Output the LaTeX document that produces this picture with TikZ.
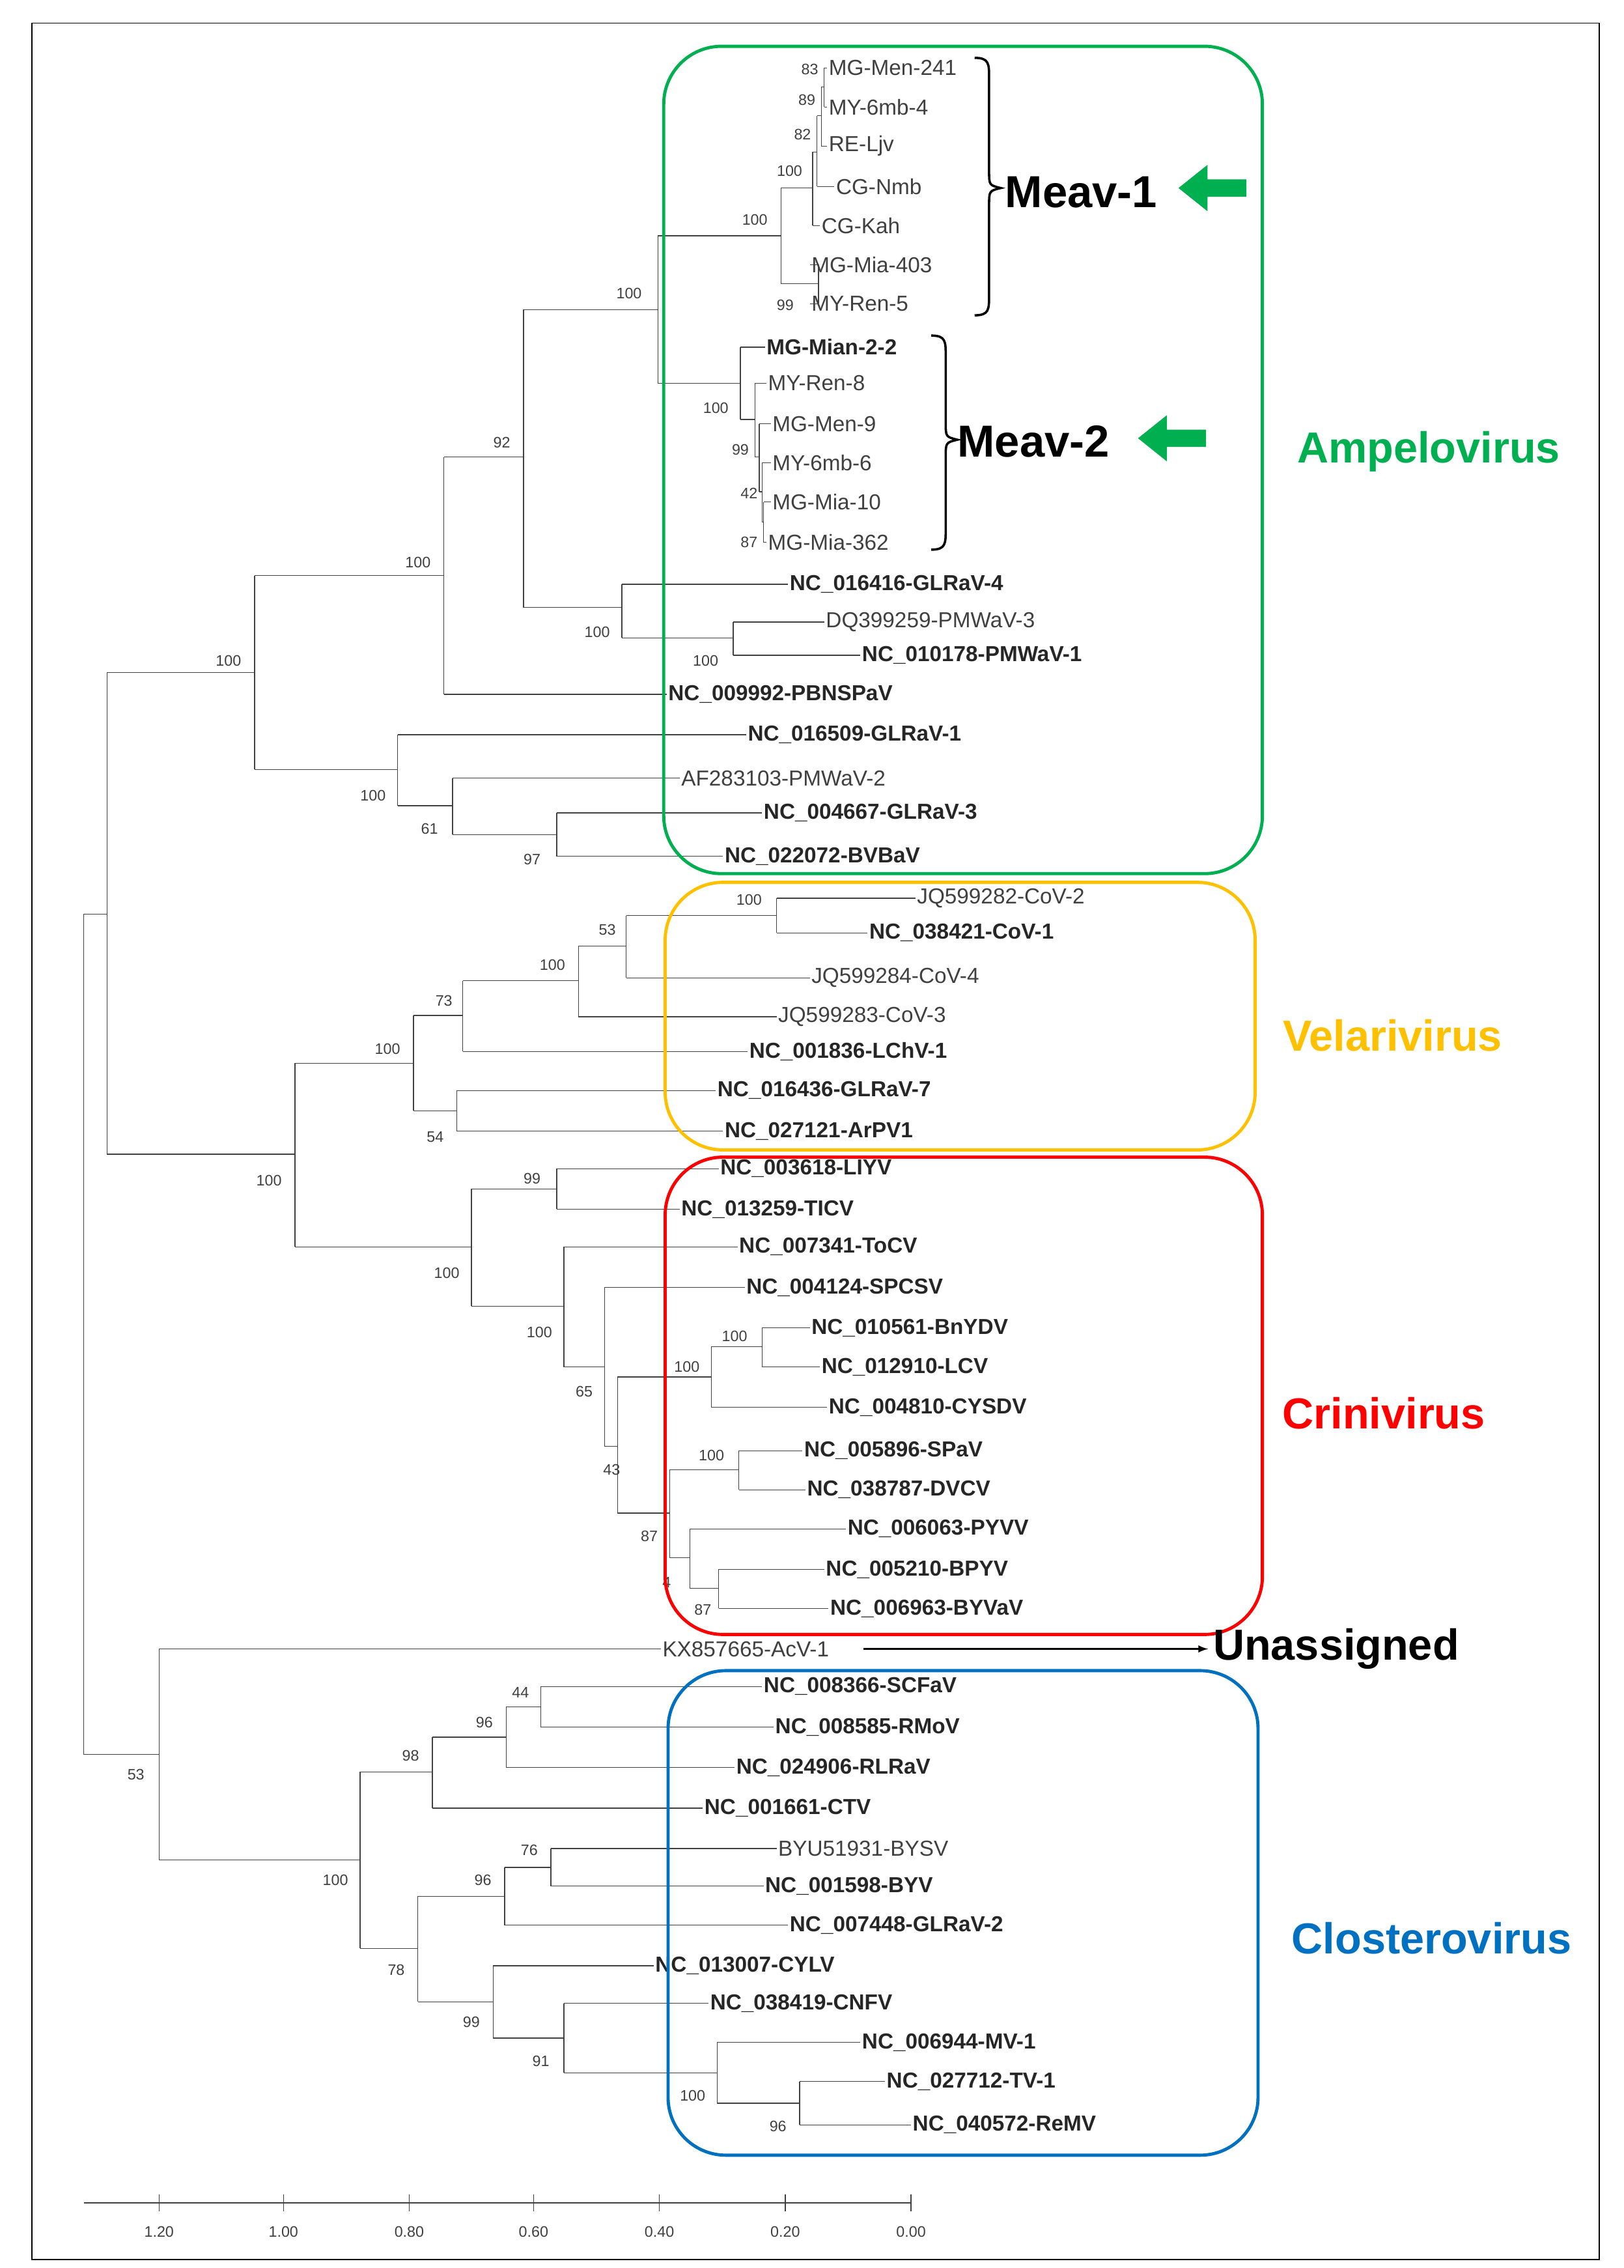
\documentclass[tikz,border=0pt]{standalone}
\usepackage{fontspec}
\setmainfont{Liberation Sans}
\definecolor{gA}{RGB}{0,176,80}
\definecolor{oV}{RGB}{255,192,0}
\definecolor{bC}{RGB}{0,112,192}
\begin{document}
\begin{tikzpicture}[x=1pt,y=-1pt,
  br/.style={line width=0.6pt,black!75},
  lf/.style={anchor=west,inner sep=1pt,font=\fontsize{15}{16}\selectfont,text=black!75},
  lb/.style={lf,font=\fontsize{15}{16}\selectfont\bfseries,text=black!85},
  bs/.style={inner sep=0pt,font=\fontsize{10.5}{11}\selectfont,text=black!75},
  box/.style={line width=2.2pt,rounded corners=40pt},
  grp/.style={font=\fontsize{30}{32}\selectfont\bfseries}]
\useasboundingbox (0,0) rectangle (1123,1568);
\fill[white] (0,0) rectangle (1123,1568);
\draw[line width=0.8pt] (22,16) rectangle (1106,1562);
\newcommand\lv[5]{\coordinate (#1) at (#2,#3); \node[#4] (#1t) at (#1) {#5};}
\newcommand\cl[5]{\coordinate (#1) at (#2,#3);
  \draw[br] (#1|-#4) -- (#1|-#5); \draw[br] (#1|-#4) -- (#4); \draw[br] (#1|-#5) -- (#5);}
\newcommand\bsl[3]{\node[bs] at (#1,#2) {#3};}
% leaves
\lv{L1}{572}{47}{lf}{MG-Men-241}
\lv{L2}{572}{74}{lf}{MY-6mb-4}
\lv{L3}{572}{101}{lf}{RE-Ljv}
\lv{L4}{577}{129}{lf}{CG-Nmb}
\lv{L5}{567}{156}{lf}{CG-Kah}
\lv{L6}{560}{183}{lf}{MG-Mia-403}
\lv{L7}{560}{210}{lf}{MY-Ren-5}
\lv{M1}{529}{240}{lb}{MG-Mian-2-2}
\lv{M2}{530}{265}{lf}{MY-Ren-8}
\lv{M3}{533}{293}{lf}{MG-Men-9}
\lv{M4}{533}{320}{lf}{MY-6mb-6}
\lv{M5}{533}{347}{lf}{MG-Mia-10}
\lv{M6}{530}{375}{lf}{MG-Mia-362}
\lv{A1}{545}{404}{lb}{NC\_016416-GLRaV-4}
\lv{A2}{570}{430}{lf}{DQ399259-PMWaV-3}
\lv{A3}{595}{453}{lb}{NC\_010178-PMWaV-1}
\lv{A4}{461}{480}{lb}{NC\_009992-PBNSPaV}
\lv{A5}{516}{508}{lb}{NC\_016509-GLRaV-1}
\lv{A6}{470}{538}{lf}{AF283103-PMWaV-2}
\lv{A7}{527}{562}{lb}{NC\_004667-GLRaV-3}
\lv{A8}{500}{592}{lb}{NC\_022072-BVBaV}
\lv{V1}{633}{621}{lf}{JQ599282-CoV-2}
\lv{V2}{600}{645}{lb}{NC\_038421-CoV-1}
\lv{V3}{560}{676}{lf}{JQ599284-CoV-4}
\lv{V4}{537}{703}{lf}{JQ599283-CoV-3}
\lv{V5}{517}{727}{lb}{NC\_001836-LChV-1}
\lv{V6}{495}{754}{lb}{NC\_016436-GLRaV-7}
\lv{V7}{500}{782}{lb}{NC\_027121-ArPV1}
\lv{C1}{497}{808}{lb}{NC\_003618-LIYV}
\lv{C2}{470}{836}{lb}{NC\_013259-TICV}
\lv{C3}{510}{862}{lb}{NC\_007341-ToCV}
\lv{C4}{515}{890}{lb}{NC\_004124-SPCSV}
\lv{C5}{560}{918}{lb}{NC\_010561-BnYDV}
\lv{C6}{567}{945}{lb}{NC\_012910-LCV}
\lv{C7}{572}{973}{lb}{NC\_004810-CYSDV}
\lv{C8}{555}{1003}{lb}{NC\_005896-SPaV}
\lv{C9}{557}{1030}{lb}{NC\_038787-DVCV}
\lv{C10}{585}{1057}{lb}{NC\_006063-PYVV}
\lv{C11}{570}{1085}{lb}{NC\_005210-BPYV}
\lv{C12}{573}{1112}{lb}{NC\_006963-BYVaV}
\lv{U1}{457}{1140}{lf}{KX857665-AcV-1}
\lv{K1}{527}{1166}{lb}{NC\_008366-SCFaV}
\lv{K2}{535}{1194}{lb}{NC\_008585-RMoV}
\lv{K3}{508}{1222}{lb}{NC\_024906-RLRaV}
\lv{K4}{486}{1250}{lb}{NC\_001661-CTV}
\lv{K5}{537}{1278}{lf}{BYU51931-BYSV}
\lv{K6}{528}{1304}{lb}{NC\_001598-BYV}
\lv{K7}{545}{1331}{lb}{NC\_007448-GLRaV-2}
\lv{K8}{452}{1359}{lb}{NC\_013007-CYLV}
\lv{K9}{490}{1385}{lb}{NC\_038419-CNFV}
\lv{K10}{595}{1412}{lb}{NC\_006944-MV-1}
\lv{K11}{612}{1439}{lb}{NC\_027712-TV-1}
\lv{K12}{630}{1469}{lb}{NC\_040572-ReMV}
% Meav-1
\cl{n1}{570}{60}{L1}{L2}
\cl{n2}{568}{80}{n1}{L3}
\cl{n3}{565}{105}{n2}{L4}
\cl{n4}{562}{130}{n3}{L5}
\cl{n5}{566}{196}{L6}{L7}
\cl{n6}{540}{163}{n4}{n5}
% Meav-2
\cl{m1}{528}{361}{M5}{M6}
\cl{m2}{527}{340}{M4}{m1}
\cl{m3}{525}{316}{M3}{m2}
\cl{m4}{522}{290}{M2}{m3}
\cl{m5}{512}{265}{M1}{m4}
\cl{n7}{455}{214}{n6}{m5}
\cl{n10}{507}{441}{A2}{A3}
\cl{n9}{430}{420}{A1}{n10}
\cl{n8}{362}{316}{n7}{n9}
\cl{n11}{307}{398}{n8}{A4}
\cl{n14}{385}{577}{A7}{A8}
\cl{n13}{313}{557}{A6}{n14}
\cl{n12}{275}{532}{A5}{n13}
\cl{n15}{176}{465}{n11}{n12}
% Velarivirus
\cl{v1}{537}{633}{V1}{V2}
\cl{v2}{433}{654}{v1}{V3}
\cl{v3}{400}{678}{v2}{V4}
\cl{v4}{320}{702}{v3}{V5}
\cl{v5}{316}{768}{V6}{V7}
\cl{v6}{286}{735}{v4}{v5}
% Crinivirus
\cl{c1}{385}{822}{C1}{C2}
\cl{c2}{527}{931}{C5}{C6}
\cl{c3}{492}{952}{c2}{C7}
\cl{c4}{511}{1016}{C8}{C9}
\cl{c5}{497}{1098}{C11}{C12}
\cl{c6}{477}{1077}{C10}{c5}
\cl{c7}{463}{1046}{c4}{c6}
\cl{c8}{427}{1000}{c3}{c7}
\cl{c9}{418}{945}{C4}{c8}
\cl{c10}{390}{903}{C3}{c9}
\cl{c11}{326}{862}{c1}{c10}
\cl{v7}{204}{798}{v6}{c11}
\cl{ra}{74}{632}{n15}{v7}
% Closterovirus
\cl{k1}{374}{1180}{K1}{K2}
\cl{k2}{350}{1201}{k1}{K3}
\cl{k3}{299}{1225}{k2}{K4}
\cl{k4}{381}{1291}{K5}{K6}
\cl{k5}{349}{1311}{k4}{K7}
\cl{k6}{553}{1454}{K11}{K12}
\cl{k7}{496}{1433}{K10}{k6}
\cl{k8}{390}{1409}{K9}{k7}
\cl{k9}{341}{1384}{K8}{k8}
\cl{k10}{289}{1347}{k5}{k9}
\cl{k11}{249}{1286}{k3}{k10}
\cl{k12}{110}{1213}{U1}{k11}
\cl{root}{58}{923}{ra}{k12}
% bootstrap labels
\bsl{560}{48}{83}\bsl{558}{69}{89}\bsl{555}{93}{82}\bsl{546}{118}{100}
\bsl{522}{152}{100}\bsl{543}{211}{99}\bsl{435}{203}{100}
\bsl{495}{282}{100}\bsl{512}{311}{99}\bsl{518}{341}{42}\bsl{518}{375}{87}
\bsl{347}{306}{92}\bsl{413}{437}{100}\bsl{488}{457}{100}\bsl{289}{389}{100}
\bsl{158}{457}{100}\bsl{258}{550}{100}\bsl{297}{573}{61}\bsl{368}{594}{97}
\bsl{518}{622}{100}\bsl{420}{643}{53}\bsl{382}{667}{100}\bsl{307}{692}{73}
\bsl{268}{725}{100}\bsl{301}{786}{54}\bsl{186}{816}{100}
\bsl{368}{815}{99}\bsl{309}{880}{100}\bsl{373}{921}{100}\bsl{404}{962}{65}
\bsl{423}{1016}{43}\bsl{449}{1062}{87}\bsl{461}{1094}{4}\bsl{486}{1113}{87}
\bsl{508}{924}{100}\bsl{475}{945}{100}\bsl{492}{1006}{100}
\bsl{360}{1170}{44}\bsl{335}{1191}{96}\bsl{284}{1214}{98}\bsl{94}{1227}{53}
\bsl{366}{1279}{76}\bsl{334}{1300}{96}\bsl{232}{1300}{100}\bsl{274}{1362}{78}
\bsl{326}{1398}{99}\bsl{374}{1425}{91}\bsl{479}{1449}{100}\bsl{538}{1470}{96}
% boxes
\draw[box,draw=gA] (459,32) rectangle (873,604);
\draw[box,draw=oV] (460,610) rectangle (868,795);
\draw[box,draw=red] (460,800) rectangle (873,1130);
\draw[box,draw=bC] (462,1155) rectangle (870,1490);
\node[grp,text=gA] (g1) at (988,312) {Ampelovirus};
\node[grp,text=oV] (g2) at (963,716) {Velarivirus};
\node[grp,text=red] (g3) at (957,977) {Crinivirus};
\node[grp,text=bC] (g4) at (990,1340) {Closterovirus};
\node[grp,text=black] (un) at (924,1140) {Unassigned};
\coordinate (ua) at (597,1140);
\draw[line width=1.3pt,-latex] (ua) -- (un.west);
% braces
\draw[line width=1.6pt] (674,40) .. controls (684,40) and (684,44) .. (684,54) -- (684,118) .. controls (684,128) .. (692,130) .. controls (684,132) .. (684,142) -- (684,204) .. controls (684,214) and (684,218) .. (674,218);
\draw[line width=1.6pt] (644,232) .. controls (654,232) and (654,236) .. (654,246) -- (654,292) .. controls (654,302) .. (662,304) .. controls (654,306) .. (654,316) -- (654,366) .. controls (654,376) and (654,380) .. (644,380);
\node[font=\fontsize{31}{33}\selectfont\bfseries,anchor=west,inner sep=1pt] (mv1) at (694,133) {Meav-1};
\node[font=\fontsize{31}{33}\selectfont\bfseries,anchor=west,inner sep=1pt] (mv2) at (661,305) {Meav-2};
\fill[gA] (815,130) -- (835,114) -- (835,124) -- (862,124) -- (862,136) -- (835,136) -- (835,146) -- cycle;
\fill[gA] (787,303) -- (807,287) -- (807,297) -- (834,297) -- (834,309) -- (807,309) -- (807,319) -- cycle;
% scale bar
\coordinate (s0) at (58,1523); \coordinate (s1) at (630,1523);
\draw[br] (s0) -- (s1);
\foreach \xx/\t in {110/1.20,196/1.00,283/0.80,369/0.60,456/0.40,543/0.20,630/0.00}{
  \draw[br] (\xx,1517) -- (\xx,1529);
  \node[bs] at (\xx,1543) {\t};}
\end{tikzpicture}
\end{document}
